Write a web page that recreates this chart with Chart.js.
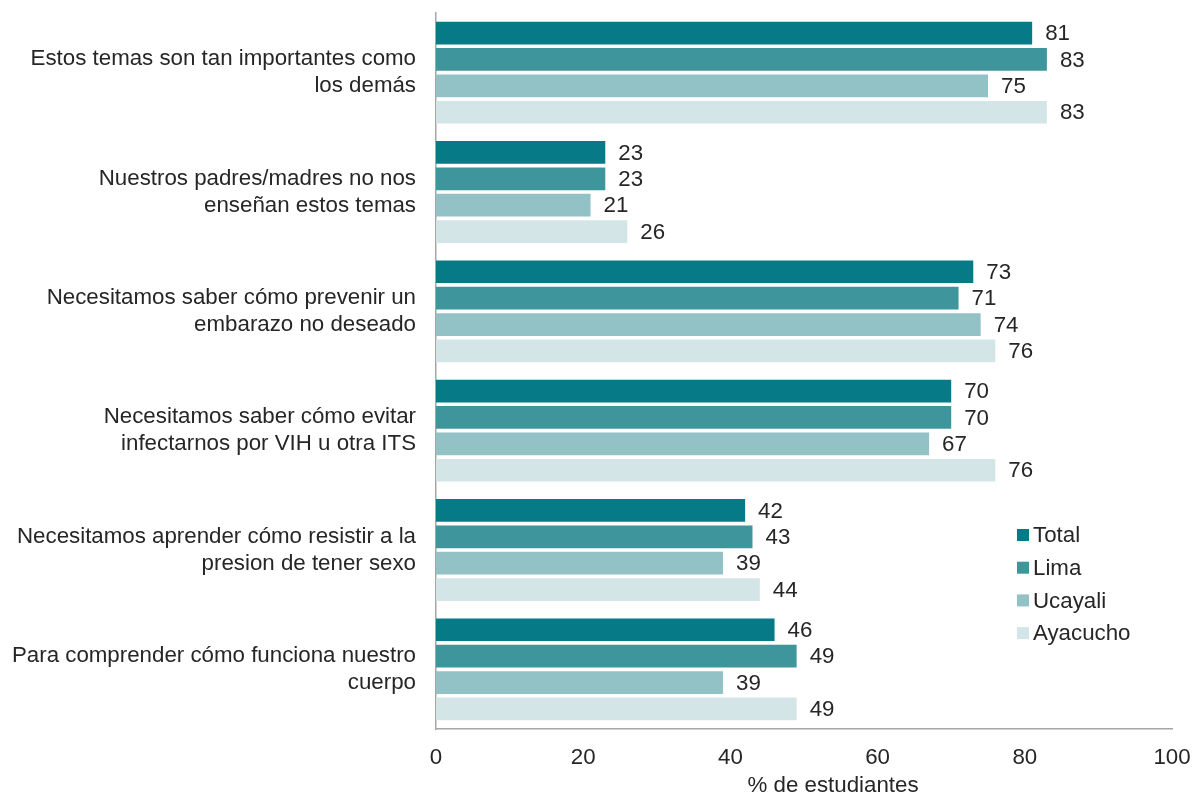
<!DOCTYPE html>
<html>
<head>
<meta charset="utf-8">
<script src="https://cdn.jsdelivr.net/npm/chart.js@4.4.1/dist/chart.umd.min.js"></script>
<style>
  html, body { margin: 0; padding: 0; background: #fff; }
  #wrap { width: 1194px; height: 797px; }
</style>
</head>
<body>
<div id="wrap"><canvas id="c"></canvas></div>
<script>
const categories = [
  ['Estos temas son tan importantes como', 'los demás'],
  ['Nuestros padres/madres no nos', 'enseñan estos temas'],
  ['Necesitamos saber cómo prevenir un', 'embarazo no deseado'],
  ['Necesitamos saber cómo evitar', 'infectarnos por VIH u otra ITS'],
  ['Necesitamos aprender cómo resistir a la', 'presion de tener sexo'],
  ['Para comprender cómo funciona nuestro', 'cuerpo']
];
const seriesNames = ['Total', 'Lima', 'Ucayali', 'Ayacucho'];
const total    = [81, 23, 73, 70, 42, 46];
const lima     = [83, 23, 71, 70, 43, 49];
const ucayali  = [75, 21, 74, 67, 39, 39];
const ayacucho = [83, 26, 76, 76, 44, 49];
const xTicks = [0, 20, 40, 60, 80, 100];
const xTitle = '% de estudiantes';

const colors = ['#077a87', '#3f959c', '#92c2c5', '#d4e5e8'];
const FONT = '"Liberation Sans", Arial, sans-serif';
const TEXT = '#262626';
const FS = 22.3;

// etiquetas de valor + leyenda + titulo del eje x
const customDrawPlugin = {
  id: 'customDraw',
  afterDatasetsDraw(chart) {
    const ctx = chart.ctx;
    ctx.save();
    ctx.font = FS + 'px ' + FONT;
    ctx.fillStyle = TEXT;
    ctx.textBaseline = 'middle';
    ctx.textAlign = 'left';
    chart.data.datasets.forEach((ds, i) => {
      const meta = chart.getDatasetMeta(i);
      meta.data.forEach((bar, j) => {
        ctx.fillText(String(ds.data[j]), bar.x + 13, bar.y + 1);
      });
    });

    // leyenda
    const lx = 1017, ly = 535, step = 32.7;
    chart.data.datasets.forEach((ds, i) => {
      const y = ly + i * step;
      ctx.fillStyle = ds.backgroundColor;
      ctx.fillRect(lx, y - 6, 12, 12);
      ctx.fillStyle = TEXT;
      ctx.fillText(ds.label, lx + 16, y + 1);
    });

    // titulo eje x
    ctx.textAlign = 'center';
    ctx.fillText(xTitle, 833, 786);
    ctx.restore();
  }
};

const datasets = [total, lima, ucayali, ayacucho].map((d, i) => ({
  label: seriesNames[i],
  data: d,
  backgroundColor: colors[i],
  borderWidth: 0,
  categoryPercentage: 0.885,
  barPercentage: 0.86
}));

function noPad(axis) {
  axis.paddingTop = 0;
  axis.paddingBottom = 0;
  axis.paddingLeft = 0;
  axis.paddingRight = 0;
}

new Chart(document.getElementById('c'), {
  type: 'bar',
  data: { labels: categories, datasets: datasets },
  plugins: [customDrawPlugin],
  options: {
    indexAxis: 'y',
    responsive: true,
    maintainAspectRatio: false,
    animation: false,
    layout: { padding: { top: 13, right: 22, left: 0, bottom: 0 } },
    plugins: {
      legend: { display: false },
      tooltip: { enabled: false }
    },
    scales: {
      x: {
        min: 0,
        max: 100,
        afterBuildTicks(axis) { axis.ticks = xTicks.map(v => ({ value: v })); },
        afterFit(axis) { axis.height = 68; noPad(axis); },
        grid: { display: false, drawTicks: false },
        border: { display: true, color: '#a6a6a6', width: 1.5 },
        ticks: { color: TEXT, font: { size: FS, family: FONT }, padding: 15 }
      },
      y: {
        afterFit(axis) { axis.width = 436; noPad(axis); },
        grid: { display: false, drawTicks: false },
        border: { display: true, color: '#a6a6a6', width: 1.5 },
        ticks: { color: TEXT, font: { size: FS, family: FONT, lineHeight: 1.22 }, padding: 20 }
      }
    }
  }
});
</script>
</body>
</html>
